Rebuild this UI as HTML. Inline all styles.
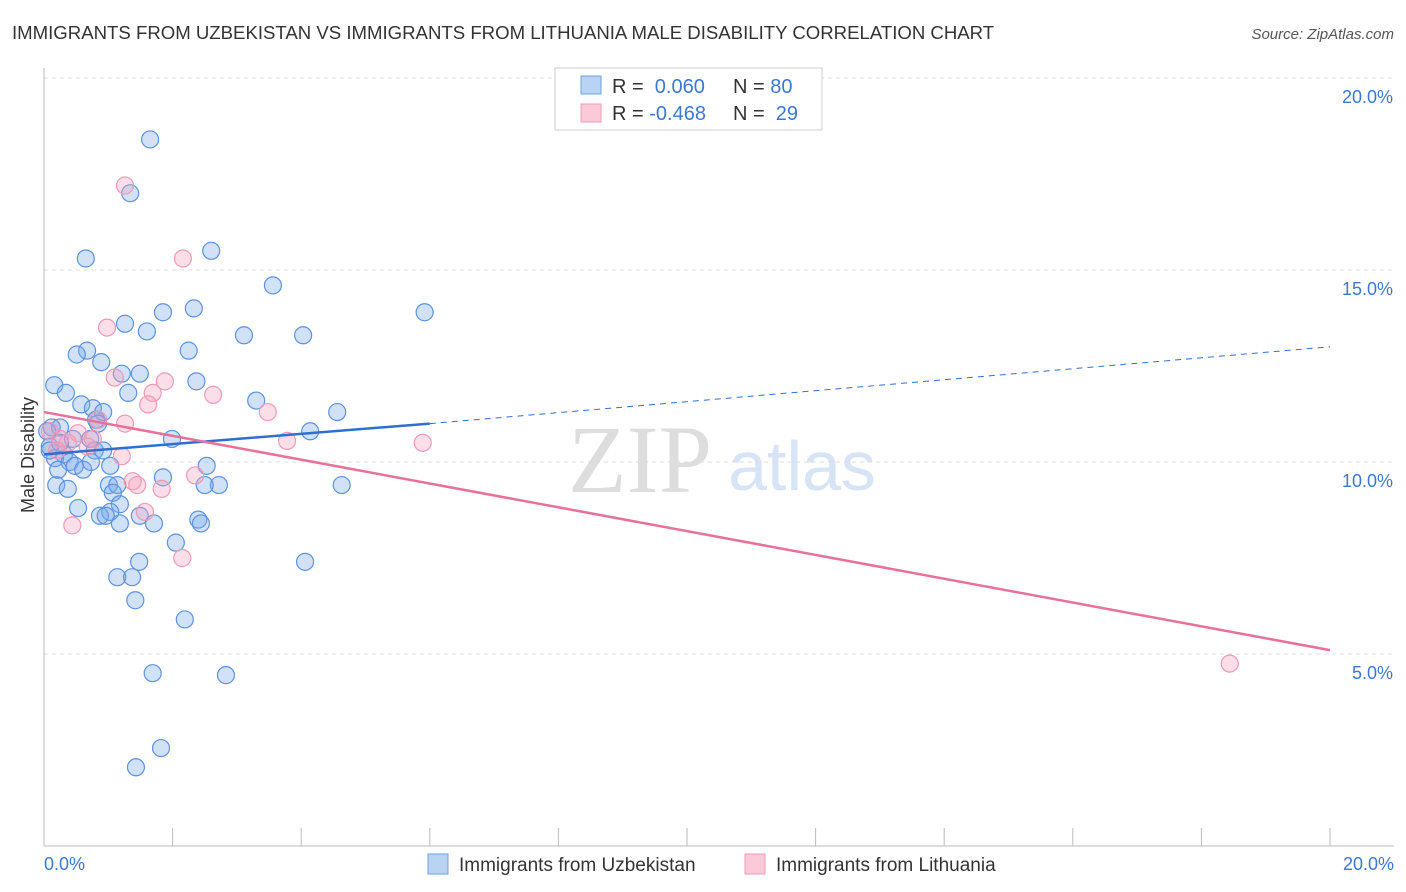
<!DOCTYPE html>
<html><head><meta charset="utf-8"><style>
body{margin:0;background:#fff;font-family:"Liberation Sans",sans-serif}
svg{display:block}
</style></head><body>
<svg id="c" width="1406" height="892">
<text x="12" y="39" font-size="18.6" fill="#333">IMMIGRANTS FROM UZBEKISTAN VS IMMIGRANTS FROM LITHUANIA MALE DISABILITY CORRELATION CHART</text>
<text x="1394" y="39" font-size="15" fill="#555" font-style="italic" text-anchor="end">Source: ZipAtlas.com</text>
<text x="640" y="492" font-size="96" fill="#ddd" font-family="Liberation Serif,serif" text-anchor="middle">ZIP</text>
<text x="802" y="490" font-size="70" fill="#d6e4f5" text-anchor="middle">atlas</text>
<g id="grid"></g><g id="axes"></g><g id="pts"></g><g id="trend"></g>
<text transform="translate(34,455) rotate(-90)" font-size="18" fill="#333" text-anchor="middle">Male Disability</text>
<text x="44" y="870" font-size="18" fill="#3a78d4">0.0%</text>
<text x="1394" y="870" font-size="18" fill="#3a78d4" text-anchor="end">20.0%</text>
<g>
<rect x="555" y="68" width="267" height="62" fill="#fff" stroke="#ccc"/>
<rect x="581" y="76" width="20" height="18" fill="#b9d3f5" stroke="#6fa0e0"/>
<rect x="581" y="104" width="20" height="18" fill="#fbc9d8" stroke="#ee9ab5"/>
<text x="612" y="93" font-size="20" fill="#333">R = <tspan fill="#3a78d4">&#160;0.060</tspan><tspan x="733">N = </tspan><tspan fill="#3a78d4">80</tspan></text>
<text x="612" y="120" font-size="20" fill="#333">R = <tspan fill="#3a78d4">-0.468</tspan><tspan x="733">N = </tspan><tspan fill="#3a78d4">&#160;29</tspan></text>
</g>
<g>
<rect x="428" y="854" width="20" height="20" fill="#b9d3f5" stroke="#6fa0e0"/>
<text x="459" y="871" font-size="19" fill="#333">Immigrants from Uzbekistan</text>
<rect x="745" y="854" width="20" height="20" fill="#fbc9d8" stroke="#ee9ab5"/>
<text x="776" y="871" font-size="19" fill="#333">Immigrants from Lithuania</text>
</g>
</svg>
<script>
const yTicks=[5,10,15,20];
const xTicks=[0,2,4,6,8,10,12,14,16,18,20];
const blueX=[1.65,1.34,0.65,2.6,3.56,5.92,2.33,1.85,1.26,1.6,3.11,4.03,0.67,0.51,2.25,0.89,1.21,1.49,0.16,2.37,0.34,1.31,3.3,0.58,0.76,0.92,4.56,0.81,0.84,0.12,0.25,4.14,1.99,0.45,0.09,0.79,0.31,0.17,0.40,0.48,0.61,0.73,1.03,2.53,0.19,0.37,1.01,1.14,1.85,2.72,2.5,4.63,1.07,0.53,1.18,1.03,0.87,1.49,1.71,2.4,1.18,2.44,2.05,1.48,4.06,1.14,1.37,1.42,2.19,1.69,2.83,1.82,1.43,0.05,0.09,0.25,0.22,0.96,0.92,0.72];
const blueY=[18.4,17.0,15.3,15.5,14.6,13.9,14.0,13.9,13.6,13.4,13.3,13.3,12.9,12.8,12.9,12.6,12.3,12.3,12.0,12.1,11.8,11.8,11.6,11.5,11.4,11.3,11.3,11.1,11.0,10.9,10.9,10.8,10.6,10.6,10.4,10.3,10.2,10.1,10.0,9.9,9.8,10.0,9.9,9.9,9.4,9.3,9.4,9.4,9.6,9.4,9.4,9.4,9.2,8.8,8.9,8.7,8.6,8.6,8.4,8.5,8.4,8.4,7.9,7.4,7.4,7.0,7.0,6.4,5.9,4.5,4.45,2.55,2.05,10.8,10.3,10.5,9.8,8.6,10.3,10.6];
const pinkX=[1.26,2.16,0.98,1.1,1.88,1.69,1.62,2.63,3.48,0.25,0.53,0.76,1.26,1.21,3.78,5.89,0.37,0.2,0.09,1.38,1.45,2.35,1.83,1.57,0.44,2.15,18.44,0.84,0.68];
const pinkY=[17.2,15.3,13.5,12.2,12.1,11.8,11.5,11.75,11.3,10.6,10.75,10.6,11.0,10.15,10.55,10.5,10.5,10.3,10.8,9.5,9.4,9.65,9.3,8.7,8.35,7.5,4.75,11.1,10.4];
const blueTrend=[0.060,10.2,6.0,11.0,20,13.0];
const pinkTrend=[11.3,5.1];
const NS='http://www.w3.org/2000/svg';
const X=v=>44+v/20*1286, Y=v=>846-v*38.4;
function mk(parent,tag,attrs){const e=document.createElementNS(NS,tag);for(const k in attrs)e.setAttribute(k,attrs[k]);document.getElementById(parent).appendChild(e);return e;}
yTicks.forEach(t=>{
 const l=mk('grid','line',{x1:44,x2:1394,y1:Y(t),y2:Y(t),stroke:'#ddd','stroke-dasharray':'4,4'});
 
 
 const tx=mk('grid','text',{x:1393,y:Y(t)+25,'font-size':18,fill:'#3a78d4','text-anchor':'end'});
 tx.textContent=t.toFixed(1)+'%';
 
 
});
let a=mk('axes','line',{x1:44,x2:44,y1:68,y2:846,stroke:'#bbb'});


a=mk('axes','line',{x1:44,x2:1394,y1:846,y2:846,stroke:'#bbb'});


xTicks.forEach(t=>{
 const l=mk('axes','line',{x1:X(t),x2:X(t),y1:828,y2:846,stroke:'#bbb'});
 
 
});
blueX.forEach((x,i)=>{
 const c=mk('pts','circle',{cx:X(x),cy:Y(blueY[i]),r:8.5,fill:'rgba(120,170,235,0.35)',stroke:'#5b93df','stroke-width':1.2});
 
 
});
pinkX.forEach((x,i)=>{
 const c=mk('pts','circle',{cx:X(x),cy:Y(pinkY[i]),r:8.5,fill:'rgba(245,160,190,0.35)',stroke:'#ee9ab5','stroke-width':1.2});
 
 
});
let t=mk('trend','line',{x1:X(0),y1:Y(blueTrend[1]),x2:X(blueTrend[2]),y2:Y(blueTrend[3]),stroke:'#2f6fd0','stroke-width':2.5});


t=mk('trend','line',{x1:X(blueTrend[2]),y1:Y(blueTrend[3]),x2:X(blueTrend[4]),y2:Y(blueTrend[5]),stroke:'#2f6fd0','stroke-width':1,'stroke-dasharray':'6,5'});


t=mk('trend','line',{x1:X(0),y1:Y(pinkTrend[0]),x2:X(20),y2:Y(pinkTrend[1]),stroke:'#e8709a','stroke-width':2.5});


</script>
</body></html>
